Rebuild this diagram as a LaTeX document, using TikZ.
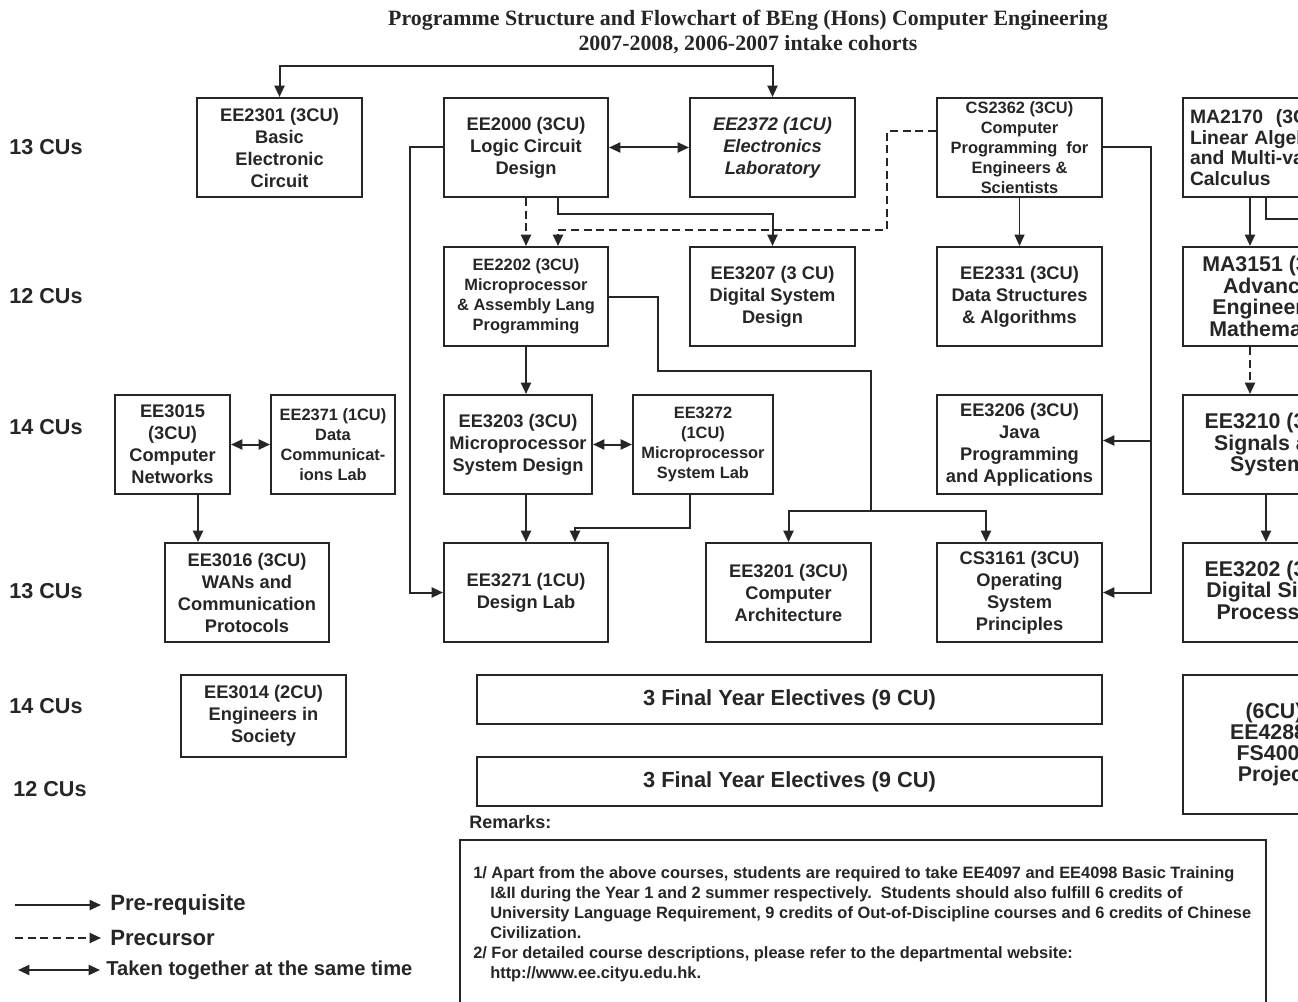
\documentclass[tikz,border=0pt]{standalone}
\usepackage{fontspec}
\setmainfont{Liberation Sans}
\newfontfamily\titlefont{Liberation Serif}
\usetikzlibrary{arrows.meta,calc}
\definecolor{ink}{RGB}{38,38,38}
\tikzset{
  box/.style={draw=ink, line width=1.5pt, align=center, inner sep=0pt, text=ink,
    font=\bfseries\fontsize{13.7}{16.5}\selectfont},
  sbox/.style={box, font=\bfseries\fontsize{12.3}{15}\selectfont},
  rbox/.style={box, font=\bfseries\fontsize{16}{16.2}\selectfont},
  sz/.style 2 args={minimum width=#1*0.75pt, minimum height=#2*0.75pt},
  tip/.tip={Triangle[length=8.5pt,width=7.5pt]},
  ln/.style={draw=ink, line width=1.5pt},
  pre/.style={ln, -tip},
  prec/.style={ln, -tip, dash pattern=on 6pt off 3.5pt},
  both/.style={ln, tip-tip},
  lbl/.style={text=ink, inner sep=0pt, font=\bfseries\fontsize{16.2}{18}\selectfont},
  leg/.style={text=ink, inner sep=0pt, font=\bfseries\fontsize{16.6}{18}\selectfont},
}
\begin{document}
\begin{tikzpicture}[x=0.75pt,y=-0.75pt]
\path[use as bounding box, fill=white] (0,0) rectangle (1298,1002);
\clip (0,0) rectangle (1298,1002);

% title
\node[text=ink, inner sep=0pt, font=\titlefont\bfseries\fontsize{16.4}{18}\selectfont] (t1) at (748,20) {Programme Structure and Flowchart of BEng (Hons) Computer Engineering};
\node[text=ink, inner sep=0pt, font=\titlefont\bfseries\fontsize{16.4}{18}\selectfont] (t2) at (748,45) {2007-2008, 2006-2007 intake cohorts};

% row labels
\node[lbl] (r1) at (46,147) {13 CUs};
\node[lbl] (r2) at (46,296) {12 CUs};
\node[lbl] (r3) at (46,427) {14 CUs};
\node[lbl] (r4) at (46,591) {13 CUs};
\node[lbl] (r5) at (46,706) {14 CUs};
\node[lbl] (r6) at (50,789) {12 CUs};

% row 1
\node[box, sz={165}{99}] (EE2301) at (279.5,147.5) {EE2301 (3CU)\\Basic\\Electronic\\Circuit};
\node[box, sz={164}{99}] (EE2000) at (526,147.5) {EE2000 (3CU)\\Logic Circuit\\Design};
\node[box, sz={165}{99}, font=\bfseries\itshape\fontsize{13.7}{16.5}\selectfont] (EE2372) at (772.5,147.5) {EE2372 (1CU)\\Electronics\\Laboratory};
\node[sbox, sz={165}{99}] (CS2362) at (1019.5,147.5) {CS2362 (3CU)\\Computer\\Programming\ \ for\\Engineers \&\\Scientists};
\node[box, sz={182}{99}, align=left, text width=168*0.75pt, font=\bfseries\fontsize{14.5}{15.4}\selectfont] (MA2170) at (1274,147.5) {MA2170\ \ (3CU)\\Linear Algebra\\and Multi-variable\\Calculus};

% row 2
\node[sbox, sz={164}{99}] (EE2202) at (526,296.5) {EE2202 (3CU)\\Microprocessor\\\& Assembly Lang\\Programming};
\node[box, sz={165}{99}] (EE3207) at (772.5,296.5) {EE3207 (3 CU)\\Digital System\\Design};
\node[box, sz={165}{99}] (EE2331) at (1019.5,296.5) {EE2331 (3CU)\\Data Structures\\\& Algorithms};
\node[rbox, sz={182}{99}] (MA3151) at (1274,296.5) {MA3151 (3CU)\\Advanced\\Engineering\\Mathematics};

% row 3
\node[box, sz={115}{99}] (EE3015) at (172.5,444.5) {EE3015\\(3CU)\\Computer\\Networks};
\node[sbox, sz={124}{99}] (EE2371) at (333,444.5) {EE2371 (1CU)\\Data\\Communicat-\\ions Lab};
\node[box, sz={148}{99}] (EE3203) at (518,444.5) {EE3203 (3CU)\\Microprocessor\\System Design};
\node[sbox, sz={140}{99}] (EE3272) at (703,444.5) {EE3272\\(1CU)\\Microprocessor\\System Lab};
\node[box, sz={165}{99}] (EE3206) at (1019.5,444.5) {EE3206 (3CU)\\Java\\Programming\\and Applications};
\node[rbox, sz={182}{99}] (EE3210) at (1274,444.5) {EE3210 (3CU)\\Signals and\\Systems};

% row 4
\node[box, sz={164}{99}] (EE3016) at (247,592.5) {EE3016 (3CU)\\WANs and\\Communication\\Protocols};
\node[box, sz={164}{99}] (EE3271) at (526,592.5) {EE3271 (1CU)\\Design Lab};
\node[box, sz={165}{99}] (EE3201) at (788.5,592.5) {EE3201 (3CU)\\Computer\\Architecture};
\node[box, sz={165}{99}] (CS3161) at (1019.5,592.5) {CS3161 (3CU)\\Operating\\System\\Principles};
\node[rbox, sz={182}{99}] (EE3202) at (1274,592.5) {EE3202 (3CU)\\Digital Signal\\Processing};

% rows 5-6
\node[box, sz={165}{82}] (EE3014) at (263.5,716) {EE3014 (2CU)\\Engineers in\\Society};
\node[box, sz={625}{49}, font=\bfseries\fontsize{16.4}{18}\selectfont] (el1) at (789.5,699.5) {3 Final Year Electives (9 CU)};
\node[box, sz={625}{49}, font=\bfseries\fontsize{16.4}{18}\selectfont] (el2) at (789.5,781.5) {3 Final Year Electives (9 CU)};
\node[rbox, sz={182}{139}, font=\bfseries\fontsize{16}{15.8}\selectfont] (proj) at (1274,744.5) {(6CU)\\EE4288 /\\FS4001\\Project};

% remarks
\node[text=ink, inner sep=0pt, anchor=west, font=\bfseries\fontsize{13.5}{15}\selectfont] (remlbl) at (469,822) {Remarks:};
\node[draw=ink, line width=1.5pt, inner sep=0pt, minimum width=806*0.75pt, minimum height=163*0.75pt] (rembox) at (863,921.5) {};
\node[text=ink, inner sep=0pt, anchor=north west, align=left, font=\bfseries\fontsize{12.3}{15}\selectfont] (remtxt) at (473,866) {1/ Apart from the above courses, students are required to take EE4097 and EE4098 Basic Training\\
\hspace*{12.75pt}I\&II during the Year 1 and 2 summer respectively.\ \ Students should also fulfill 6 credits of\\
\hspace*{12.75pt}University Language Requirement, 9 credits of Out-of-Discipline courses and 6 credits of Chinese\\
\hspace*{12.75pt}Civilization.\\
2/ For detailed course descriptions, please refer to the departmental website:\\
\hspace*{12.75pt}http://www.ee.cityu.edu.hk.};

% legend
\node[leg, anchor=west] (lg1) at (110,905) {Pre-requisite};
\node[leg, anchor=west] (lg2) at (110,938) {Precursor};
\node[leg, anchor=west, font=\bfseries\fontsize{15.1}{18}\selectfont] (lg3) at (106,970) {Taken together at the same time};
\coordinate (lg1s) at (15,905);
\coordinate (lg2s) at (15,938);
\coordinate (lg3s) at (18,970);
\draw[pre] (lg1s) -- ($(lg1.west)+(-9,0)$);
\draw[prec] (lg2s) -- ($(lg2.west)+(-9,0)$);
\draw[both] (lg3s) -- ($(lg3.west)+(-6,0)$);

% connectors
\draw[both] (EE2301.north) -- ++(0,-31) -| (EE2372.north);
\draw[both] (EE2000.east) -- (EE2372.west);
\draw[pre] (EE2000.west) -- ++(-33,0) |- (EE3271.west);
\draw[prec] (EE2000.south) -- (EE2202.north);
\draw[pre] ($(EE2000.south)+(32,0)$) -- ++(0,16) -| (EE3207.north);
\draw[prec] ($(CS2362.west)+(0,-16.5)$) -- ++(-49,0) |- ($(EE2202.north)+(32,-16)$) -- ($(EE2202.north)+(32,0)$);
\draw[pre, line width=0.8pt] (CS2362.south) -- (EE2331.north);
\coordinate (cr) at ($(CS2362.east)+(48,0)$);
\draw[pre] (CS2362.east) -- (cr) |- (CS3161.east);
\draw[pre] (cr) |- ($(EE3206.east)+(0,-4)$);
\coordinate (j1) at (871,511);
\draw[ln] (EE2202.east) -- ++(49,0) |- ($(j1)+(0,-140)$) -- (j1);
\draw[pre] (j1) -| (EE3201.north);
\draw[pre] (j1) -| ($(CS3161.north)+(-33.5,0)$);
\draw[pre] (EE2202.south) -- (EE2202.south |- EE3203.north);
\draw[both] (EE3203.east) -- (EE3272.west);
\draw[pre] ($(EE3203.south)+(8,0)$) -- (EE3271.north);
\draw[pre] ($(EE3272.south)+(-13,0)$) -- ++(0,33) -| ($(EE3271.north)+(49,0)$);
\draw[both] (EE3015.east) -- (EE2371.west);
\draw[pre] ($(EE3015.south)+(25.5,0)$) -- ($(EE3016.north)+(-49,0)$);
\draw[pre] ($(MA2170.south)+(-24,0)$) -- ($(MA3151.north)+(-24,0)$);
\draw[ln] ($(MA2170.south)+(-8,0)$) -- ++(0,21) -- ++(60,0);
\draw[prec] ($(MA3151.south)+(-24,0)$) -- ($(EE3210.north)+(-24,0)$);
\draw[pre] ($(EE3210.south)+(-8,0)$) -- ($(EE3202.north)+(-8,0)$);
\end{tikzpicture}
\end{document}
